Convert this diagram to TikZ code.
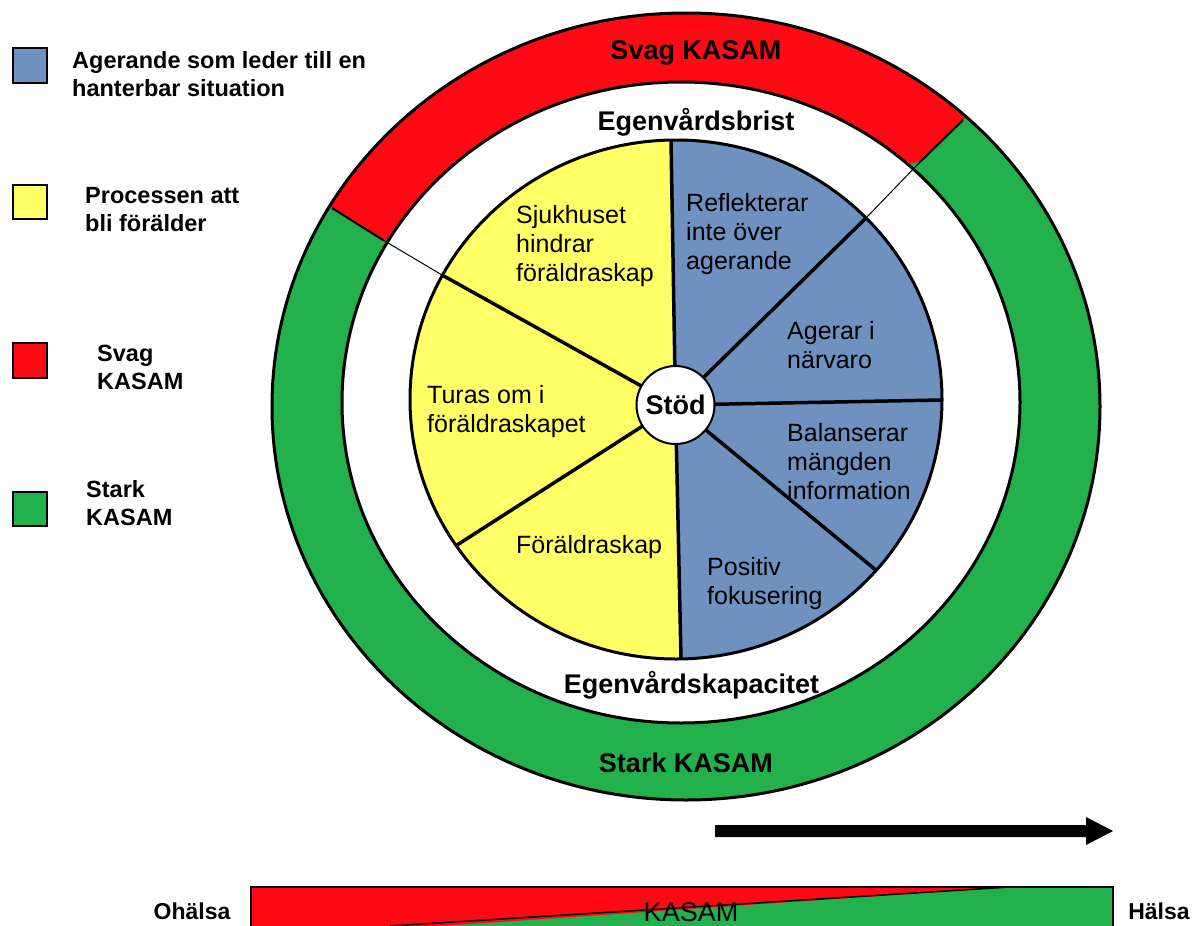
\documentclass[tikz,border=0pt]{standalone}
\usepackage{fontspec}
\setmainfont{Liberation Sans}
\definecolor{kblue}{RGB}{111,145,191}
\definecolor{kyellow}{RGB}{255,255,102}
\definecolor{kred}{RGB}{255,10,20}
\definecolor{kgreen}{RGB}{34,177,76}
\begin{document}
\begin{tikzpicture}[x=1pt,y=-1pt,
  ringlbl/.style={inner sep=0pt, font=\bfseries\fontsize{27}{32}\selectfont},
  pietext/.style={inner sep=0pt, anchor=west, align=left, font=\fontsize{25}{29}\selectfont},
  legtext/.style={inner sep=0pt, anchor=west, align=left, font=\bfseries\fontsize{23.5}{28}\selectfont},
  endlbl/.style={inner sep=0pt, font=\bfseries\fontsize{23}{28}\selectfont},
  legbox/.style={draw=black, line width=2pt},
  outline/.style={draw=black, line width=3pt},
  divider/.style={draw=black, line width=3.5pt},
  bound/.style={draw=black, line width=2pt},
  thinline/.style={draw=black, line width=1pt}]
\useasboundingbox (0,0) rectangle (1200,926);
\fill[white] (0,0) rectangle (1200,926);

% centres
\coordinate (co) at (686,406.5);
\coordinate (ci) at (681,402.5);
\coordinate (cp) at (676,399.5);

% outer ring
\fill[kgreen] (co) ellipse [x radius=414pt, y radius=393.5pt];
\begin{scope}
  \clip (920,162) -- (1200,-111) -- (0,-111) -- (0,0) -- (383,240) -- cycle;
  \fill[kred] (co) ellipse [x radius=414pt, y radius=393.5pt];
\end{scope}
\fill[white] (ci) ellipse [x radius=339pt, y radius=320.5pt];
\draw[outline] (co) ellipse [x radius=414pt, y radius=393.5pt];
\draw[outline] (ci) ellipse [x radius=339pt, y radius=320.5pt];

\coordinate (rbro) at (963,120);
\coordinate (rbri) at (920,162);
\coordinate (rblo) at (332,208);
\coordinate (rbli) at (383,240);
\draw[bound] (rbro) -- (rbri);
\draw[bound] (rblo) -- (rbli);

% pie
\fill[kyellow] (cp) ellipse [x radius=266pt, y radius=259.5pt];
\begin{scope}
  \clip (670.2,100) -- (1000,100) -- (1000,700) -- (681.8,700) -- cycle;
  \fill[kblue] (cp) ellipse [x radius=266pt, y radius=259.5pt];
\end{scope}

\coordinate (sc) at (675.5,405);
\coordinate (ptop) at (671,140);
\coordinate (pbot) at (681,659);
\coordinate (pul) at (442,275);
\coordinate (pll) at (457,545);
\coordinate (pur) at (866,218);
\coordinate (pr) at (941,400);
\coordinate (plr) at (877,571);
\foreach \p in {ptop,pbot,pul,pll,pur,pr,plr} \draw[divider] (\p) -- (sc);
\draw[thinline] (pur) -- (rbri);
\draw[thinline] (pul) -- (rbli);
\draw[outline] (cp) ellipse [x radius=266pt, y radius=259.5pt];

\node[circle, draw=black, line width=2pt, fill=white, minimum size=78pt, inner sep=0pt,
      font=\bfseries\fontsize{27}{32}\selectfont] (stod) at (sc) {Stöd};

% pie texts
\node[pietext] (t1) at (516,246) {Sjukhuset\\hindrar\\föräldraskap};
\node[pietext] (t2) at (686,234.5) {Reflekterar\\inte över\\agerande};
\node[pietext] (t3) at (787,345) {Agerar i\\närvaro};
\node[pietext] (t4) at (787,461.5) {Balanserar\\mängden\\information};
\node[pietext] (t5) at (707,584) {Positiv\\fokusering};
\node[pietext] (t6) at (427,412) {Turas om i\\föräldraskapet};
\node[pietext] (t7) at (516,547) {Föräldraskap};

% ring labels
\node[ringlbl] (svag) at (696,53) {Svag KASAM};
\node[ringlbl] (brist) at (696,122) {Egenvårdsbrist};
\node[ringlbl] (kap) at (691.5,685) {Egenvårdskapacitet};
\node[ringlbl] (stark) at (686,763) {Stark KASAM};

% legend
\draw[legbox, fill=kblue] (13,48) rectangle (47,83);
\draw[legbox, fill=kyellow] (13,185) rectangle (47,219);
\draw[legbox, fill=kred] (13,343) rectangle (47,378);
\draw[legbox, fill=kgreen] (13,492) rectangle (47,526);
\node[legtext] (l1) at (72,74) {Agerande som leder till en\\hanterbar situation};
\node[legtext] (l2) at (85,209.5) {Processen att\\bli förälder};
\node[legtext] (l3) at (97,367.5) {Svag\\KASAM};
\node[legtext] (l4) at (86,503.5) {Stark\\KASAM};

% arrow
\fill[black] (715,825) -- (1086,825) -- (1086,817) -- (1113,831) -- (1086,845) -- (1086,837) -- (715,837) -- cycle;

% bottom bar
\fill[kred] (251,887) rectangle (1113,930);
\fill[kgreen] (384,930) -- (1010,887) -- (1113,887) -- (1113,930) -- cycle;
\draw[line width=1.5pt] (390,926) -- (1010,887);
\draw[line width=1.5pt] (251,930) -- (251,887) -- (1113,887) -- (1113,930);
\node[inner sep=0pt, font=\fontsize{27}{32}\selectfont] (kasam) at (691,912) {KASAM};
\node[endlbl] (ohalsa) at (192,911) {Ohälsa};
\node[endlbl] (halsa) at (1159,911) {Hälsa};
\end{tikzpicture}
\end{document}
